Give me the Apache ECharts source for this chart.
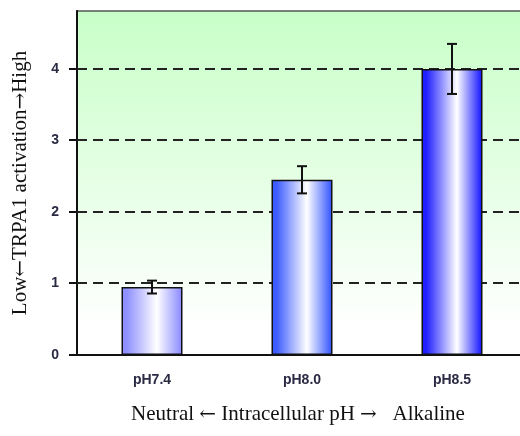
<!DOCTYPE html>
<html>
<head>
<meta charset="utf-8">
<script src="https://cdn.jsdelivr.net/npm/echarts@6/dist/echarts.min.js"></script>
<style>html,body{margin:0;padding:0;background:#fff;overflow:hidden;width:520px;height:436px;}#c{width:527px;height:436px;}</style>
</head>
<body>
<div id="c"></div>
<script>
var categories = ['pH7.4', 'pH8.0', 'pH8.5'];
var activation = [0.95, 2.45, 4.0];
var errors = [0.09, 0.19, 0.35];
var yTicks = [0, 1, 2, 3, 4];
var yAxisTitle = ['Low', '\u2190', 'TRPA1 activation', '\u2192', 'High'];
var xAxisTitle = ['Neutral ', '\u2190', ' Intracellular pH ', '\u2192', '   Alkaline'];

var barEdgeColors = ['#8f8fff', '#3d5cff', '#2020ff'];

function barGradient(edge) {
  return {
    type: 'linear', x: 0, y: 0, x2: 1, y2: 0,
    colorStops: [
      {offset: 0, color: edge},
      {offset: 0.08, color: edge},
      {offset: 0.58, color: '#ffffff'},
      {offset: 0.97, color: edge},
      {offset: 1, color: edge}
    ]
  };
}
function richTitle(parts) {
  return parts.map(function (p, i) {
    return i % 2 === 1 ? '{a|' + p + '}' : '{t|' + p + '}';
  }).join('');
}
var titleRich = {
  t: {fontFamily: 'Liberation Serif, Times New Roman', fontSize: 21, color: '#111'},
  a: {fontFamily: 'DejaVu Serif', fontSize: 20, color: '#111'}
};

var chart = echarts.init(document.getElementById('c'));
var barData = activation.map(function (v, i) {
  return {value: v, itemStyle: {color: barGradient(barEdgeColors[i])}};
});
var errData = activation.map(function (v, i) {
  return [i, v - errors[i], v + errors[i]];
});
var gridData = yTicks.map(function (t) { return [0, t]; });

chart.setOption({
  animation: false,
  grid: {
    left: 77, top: 11, right: 0, bottom: 81,
    show: true,
    borderColor: '#555', borderWidth: 1.5,
    backgroundColor: {
      type: 'linear', x: 0, y: 0, x2: 0, y2: 1,
      colorStops: [
        {offset: 0, color: '#c8ffc8'},
        {offset: 0.92, color: '#ffffff'},
        {offset: 1, color: '#ffffff'}
      ]
    }
  },
  xAxis: {
    type: 'category',
    data: categories,
    axisLine: {lineStyle: {color: '#111', width: 2}},
    axisTick: {show: false},
    axisLabel: {
      margin: 18, fontFamily: 'Liberation Sans, Arial', fontWeight: 'bold',
      fontSize: 14, color: '#2a2a44'
    },
    name: richTitle(xAxisTitle),
    nameLocation: 'middle',
    nameGap: 49,
    nameTextStyle: {rich: titleRich, padding: [0, 8, 0, 0]}
  },
  yAxis: {
    type: 'value',
    min: 0, max: 4.81, interval: 1,
    axisLine: {show: true, lineStyle: {color: '#111', width: 2}},
    axisTick: {show: false},
    axisLabel: {
      margin: 18, fontFamily: 'Liberation Sans, Arial', fontWeight: 'bold',
      fontSize: 14, color: '#2a2a44',
      formatter: function (v) { return yTicks.indexOf(v) >= 0 ? String(v) : ''; }
    },
    splitLine: {show: false},
    name: richTitle(yAxisTitle),
    nameLocation: 'middle',
    nameRotate: 90,
    nameGap: 46,
    nameTextStyle: {rich: titleRich}
  },
  series: [
    {
      type: 'custom',
      data: gridData,
      encode: {x: 0, y: 1},
      z: 1,
      silent: true,
      renderItem: function (params, api) {
        var cs = params.coordSys;
        var y = Math.round(api.coord([0, api.value(1)])[1]);
        var children = [
          {type: 'line', shape: {x1: cs.x - 8, y1: y, x2: cs.x, y2: y},
           style: {stroke: '#111', lineWidth: 2}}
        ];
        if (api.value(1) > 0) {
          children.push({type: 'line', shape: {x1: cs.x, y1: y, x2: cs.x + cs.width, y2: y},
            style: {stroke: '#222', lineWidth: 2, lineDash: [10, 6]}});
        }
        return {type: 'group', children: children};
      }
    },
    {
      type: 'bar',
      data: barData,
      barWidth: 61,
      itemStyle: {borderColor: '#111', borderWidth: 1.5},
      z: 2
    },
    {
      type: 'custom',
      data: errData,
      z: 3,
      renderItem: function (params, api) {
        var x = api.value(0);
        var lo = api.coord([x, api.value(1)]);
        var hi = api.coord([x, api.value(2)]);
        var hw = 5;
        var st = {stroke: '#111', lineWidth: 2};
        return {
          type: 'group',
          children: [
            {type: 'line', shape: {x1: lo[0], y1: lo[1], x2: hi[0], y2: hi[1]}, style: st},
            {type: 'line', shape: {x1: lo[0] - hw, y1: lo[1], x2: lo[0] + hw, y2: lo[1]}, style: st},
            {type: 'line', shape: {x1: hi[0] - hw, y1: hi[1], x2: hi[0] + hw, y2: hi[1]}, style: st}
          ]
        };
      }
    }
  ]
});
</script>
</body>
</html>
